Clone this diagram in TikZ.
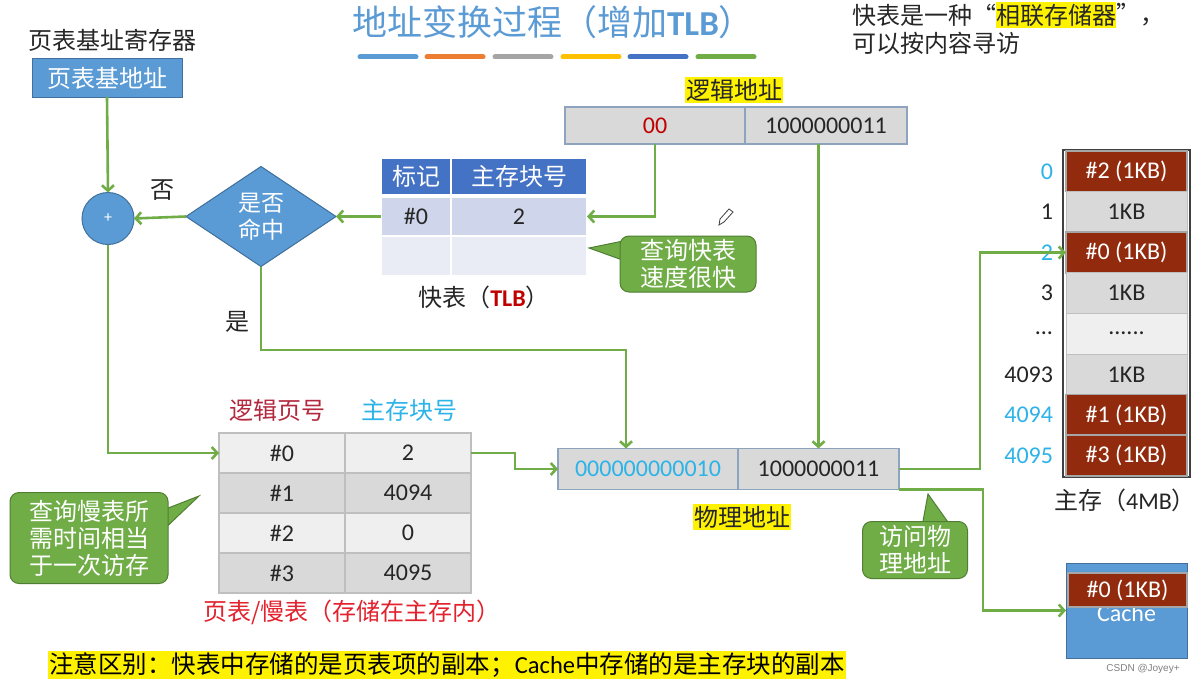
\documentclass[tikz,border=0pt]{standalone}
\usepackage{fontspec}
\setmainfont{Carlito}
\newfontfamily\cjk{Noto Sans CJK SC}
\newfontfamily\wmfont{Liberation Sans}
\usetikzlibrary{arrows.meta,shapes.geometric}
\newcommand\myfs[2]{\fontsize{#1}{#2}\selectfont}
\definecolor{titleblue}{HTML}{5B9BD5}
\definecolor{boxblue}{HTML}{5B9BD5}
\definecolor{boxbord}{HTML}{41719C}
\definecolor{tlbhead}{HTML}{4472C4}
\definecolor{tlbra}{HTML}{CFD5EA}
\definecolor{tlbrb}{HTML}{E9EBF5}
\definecolor{lgreen}{HTML}{70AD47}
\definecolor{cbord}{HTML}{507E32}
\definecolor{dred}{HTML}{C00000}
\definecolor{cyanone}{HTML}{2CB3E8}
\definecolor{mred}{HTML}{922B0E}
\definecolor{ptred}{HTML}{B3283E}
\definecolor{capred}{HTML}{E2222E}
\definecolor{addrg}{HTML}{D9D9D9}
\definecolor{addrb}{HTML}{8EA3BE}
\definecolor{lgray}{HTML}{EFEFEF}
\definecolor{mgray}{HTML}{D9D9D9}
\definecolor{bgray}{HTML}{BFBFBF}
\definecolor{txt}{HTML}{262626}
\definecolor{barA}{HTML}{5B9BD5}
\definecolor{barB}{HTML}{ED7D31}
\definecolor{barC}{HTML}{A5A5A5}
\definecolor{barD}{HTML}{FFC000}
\definecolor{barE}{HTML}{4472C4}
\definecolor{barF}{HTML}{70AD47}
\begin{document}
\begin{tikzpicture}[x=1pt,y=-1pt,
  every node/.style={inner sep=0pt, outer sep=0pt},
  zh/.style={font=\myfs{24}{27}\cjk, text=txt, align=center},
  lat/.style={font=\myfs{24}{27}, text=txt},
  addr/.style={lat, draw=addrb, fill=addrg, line width=1.2pt, minimum height=37pt},
  tlbc/.style={lat, draw=white, line width=1.5pt, minimum height=39pt},
  ptc/.style={lat, draw=bgray, line width=1.2pt, minimum width=126pt, minimum height=40pt},
  memc/.style={lat, minimum width=121pt, minimum height=40.6pt, draw=bgray, fill=mgray, line width=1pt},
  memr/.style={memc, fill=mred, text=white, draw=gray!70, line width=1.5pt},
  meml/.style={lat, anchor=east},
  callout/.style={fill=lgreen, draw=cbord, line width=1pt},
  cbox/.style={callout, zh, text=white, rounded corners=9pt},
  arr/.style={draw=lgreen, line width=2.6pt, -{Straight Barb[length=5.5pt,width=12pt]}},
  hl/.style={fill=yellow, inner xsep=1pt, inner ysep=2pt},
  bar/.style={line width=5pt, line cap=round}
]
\useasboundingbox[fill=white] (0,0) rectangle (1198,685);

% title
\node[font=\myfs{35}{40}\cjk, text=titleblue] (title) at (553,22) {地址变换过程（增加{\rmfamily\bfseries TLB}）};
\draw[bar, barA] (360,57) -- (416,57);
\draw[bar, barB] (427,57) -- (483,57);
\draw[bar, barC] (495,57) -- (551,57);
\draw[bar, barD] (563,57) -- (619,57);
\draw[bar, barE] (630,57) -- (686,57);
\draw[bar, barF] (698,57) -- (754,57);

% top right note
\node[zh, anchor=west] (q1) at (852,15) {快表是一种“};
\node[zh, hl, anchor=west, inner xsep=0pt] (q2) at (q1.east) {相联存储器};
\node[zh, anchor=west] (q3) at (q2.east) {”，};
\node[zh, anchor=west] (q4) at (852,43) {可以按内容寻访};

% page table base register
\node[zh] (pbrl) at (112,40) {页表基址寄存器};
\node[zh, fill=boxblue, draw=boxbord, line width=1pt, text=white, minimum width=150pt, minimum height=38pt] (base) at (107,78) {页表基地址};

% plus circle and diamond
\node[circle, fill=boxblue, draw=boxbord, line width=1pt, minimum size=52pt, text=white, font=\myfs{16}{16}] (plus) at (108,218.5) {+};
\node[diamond, aspect=1.5, minimum width=150pt, minimum height=100pt, fill=boxblue, draw=boxbord, line width=1pt, zh, font=\myfs{23}{27}\cjk, text=white] (hit) at (261,216.5) {是否\\命中};
\node[zh] (no) at (162,190) {否};
\node[zh] (yes) at (237,322) {是};

% logical address
\node[zh, hl] (lalab) at (734,90) {逻辑地址};
\node[addr, minimum width=180pt, text=dred] (la0) at (655,125.5) {00};
\node[addr, minimum width=162pt] (la1) at (826,125.5) {1000000011};

% TLB
\node[tlbc, zh, fill=tlbhead, text=white, minimum width=70pt, minimum height=37pt] (th1) at (416,176.5) {标记};
\node[tlbc, zh, fill=tlbhead, text=white, minimum width=136pt, minimum height=37pt] (th2) at (519,176.5) {主存块号};
\node[tlbc, fill=tlbra, minimum width=70pt] (t1a) at (416,216.5) {\#0};
\node[tlbc, fill=tlbra, minimum width=136pt] (t1b) at (519,216.5) {2};
\node[tlbc, fill=tlbrb, minimum width=70pt, minimum height=40pt] (t2a) at (416,256) {};
\node[tlbc, fill=tlbrb, minimum width=136pt, minimum height=40pt] (t2b) at (519,256) {};
\node[zh] (tlbcap) at (484,297) {快表（{\rmfamily\bfseries\color{dred}TLB}）};

% pencil icon
\draw[darkgray, line width=0.8pt] (719,225) -- (720,219) -- (729,209) -- (733,212) -- (724,222) -- cycle;

% callout TLB
\filldraw[callout] (628,240) -- (589,248) -- (628,262) -- cycle;
\node[cbox, minimum width=136pt, minimum height=56pt] (c1) at (688,264) {查询快表\\速度很快};

% page table
\node[zh, text=ptred] (ph1) at (277,410) {逻辑页号};
\node[zh, text=cyanone] (ph2) at (409,410) {主存块号};
\node[ptc, fill=lgray] (p0a) at (282,453) {\#0};
\node[ptc, fill=lgray] (p0b) at (408,453) {2};
\node[ptc, fill=mgray] (p1a) at (282,493) {\#1};
\node[ptc, fill=mgray] (p1b) at (408,493) {4094};
\node[ptc, fill=lgray] (p2a) at (282,533) {\#2};
\node[ptc, fill=lgray] (p2b) at (408,533) {0};
\node[ptc, fill=mgray] (p3a) at (282,573) {\#3};
\node[ptc, fill=mgray] (p3b) at (408,573) {4095};
\node[zh, text=capred] (ptcap) at (352,612) {页表/慢表（存储在主存内）};

% callout slow table
\filldraw[callout] (158,512) -- (199,496) -- (158,535) -- cycle;
\node[cbox, minimum width=158pt, minimum height=91pt] (c2) at (89,538) {查询慢表所\\需时间相当\\于一次访存};

% physical address
\node[addr, minimum width=180pt, minimum height=41pt, text=cyanone] (pa0) at (648,469) {000000000010};
\node[addr, minimum width=161pt, minimum height=41pt] (pa1) at (818.5,469) {1000000011};
\node[zh, hl] (palab) at (742,517) {物理地址};

% callout access
\filldraw[callout] (921,532) -- (928,494) -- (955,532) -- cycle;
\node[cbox, minimum width=105pt, minimum height=57pt] (c3) at (915,550) {访问物\\理地址};

% main memory
\node[draw=darkgray, line width=1.5pt, minimum width=127pt, minimum height=327pt] (mem) at (1126.5,313.5) {};
\node[memr] (m0) at (1126.5,171.3) {\#2 (1KB)};
\node[memc] (m1) at (1126.5,211.9) {1KB};
\node[memr] (m2) at (1126.5,252.5) {\#0 (1KB)};
\node[memc] (m3) at (1126.5,293.1) {1KB};
\node[memc, fill=lgray] (m4) at (1126.5,333.7) {......};
\node[memc] (m5) at (1126.5,374.3) {1KB};
\node[memr] (m6) at (1126.5,414.9) {\#1 (1KB)};
\node[memr] (m7) at (1126.5,455.5) {\#3 (1KB)};
\node[meml, text=cyanone] (l0) at (1053,171.3) {0};
\node[meml] (l1) at (1053,211.9) {1};
\node[meml, text=cyanone] (l2) at (1053,252.5) {2};
\node[meml] (l3) at (1053,293.1) {3};
\node[meml] (l4) at (1053,333.7) {...};
\node[meml] (l5) at (1053,374.3) {4093};
\node[meml, text=cyanone] (l6) at (1053,414.9) {4094};
\node[meml, text=cyanone] (l7) at (1053,455.5) {4095};
\node[zh] (memcap) at (1125,500) {主存（{\rmfamily 4MB}）};

% cache
\node[fill=boxblue, draw=boxbord, line width=0.8pt, minimum width=121pt, minimum height=95pt] (cache) at (1126.5,610.5) {};
\node[font=\myfs{24}{27}, text=white, anchor=base] (cachet) at (1126.5,621) {Cache};
\node[memr, minimum width=119pt, minimum height=34pt] (cb) at (1127.5,590) {\#0 (1KB)};
\node[font=\myfs{10}{12}\wmfont, text=gray] (wm) at (1143,669) {CSDN @Joyey+};

% bottom note
\node[zh, hl, font=\myfs{24.5}{27}\cjk, text=black] (note) at (447,665) {注意区别：快表中存储的是页表项的副本；{\rmfamily Cache}中存储的是主存块的副本};

% connectors
\draw[arr] (base.south) -- (plus.north);
\draw[arr] (hit.west) -- (plus.east);
\draw[arr] (la0.south) |- (t1b.east);
\draw[arr] (t1a.west) -- (hit.east);
\coordinate (yesturn) at (626,350);
\draw[arr] (hit.south) |- (yesturn) -- (yesturn |- pa0.north);
\draw[arr] (plus.south) |- (p0a.west);
\coordinate (ptturn) at (515,453);
\draw[arr] (p0b.east) -- (ptturn) |- (pa0.west);
\draw[arr] (la1.south -| pa1.north) -- (pa1.north);
\coordinate (mturn) at (980,469);
\draw[arr] (pa1.east) -- (mturn) |- (m2.west);
\coordinate (cturn) at (983,489.5);
\draw[arr] (pa1.south east) -- (cturn) |- (cache.west);
\end{tikzpicture}
\end{document}
